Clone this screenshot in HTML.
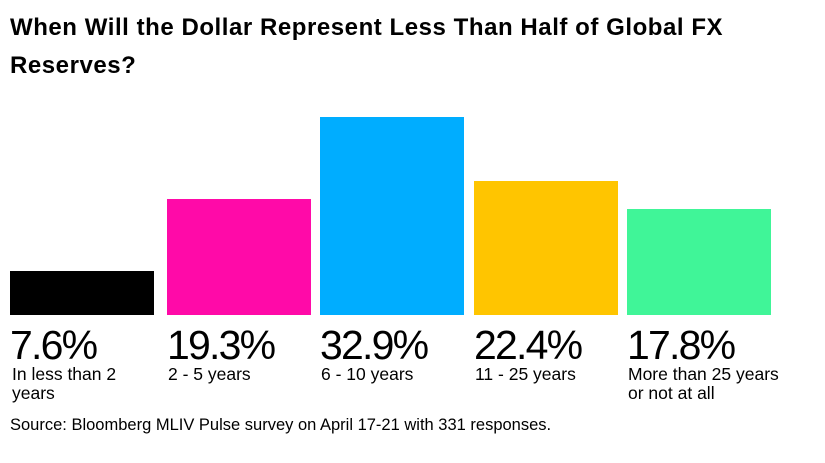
<!DOCTYPE html>
<html><head><style>
body{margin:0;width:825px;height:463px;background:#fff;font-family:"Liberation Sans",sans-serif;position:relative;overflow:hidden;color:#000}
.t{position:absolute;left:10px;top:9px;font-weight:bold;font-size:24px;line-height:38px;letter-spacing:0.55px;width:815px;white-space:nowrap}
.b{position:absolute;width:144px}
.p{position:absolute;top:321px;font-size:41px;letter-spacing:-1.8px;line-height:48px}
.c{position:absolute;top:365px;font-size:17.5px;line-height:19px;width:175px}
.s{position:absolute;left:10px;top:416px;font-size:16.5px}
</style></head><body>
<div class="t">When Will the Dollar Represent Less Than Half of Global FX<br>Reserves?</div>
<div class="b" style="left:10px;top:271px;height:44px;background:#000"></div>
<div class="b" style="left:167px;top:199px;height:116px;background:#ff0aa8"></div>
<div class="b" style="left:320px;top:117px;height:198px;background:#00adff"></div>
<div class="b" style="left:474px;top:181px;height:134px;background:#ffc500"></div>
<div class="b" style="left:627px;top:209px;height:106px;background:#40f598"></div>
<div class="p" style="left:10px">7.6%</div>
<div class="p" style="left:167px">19.3%</div>
<div class="p" style="left:320px">32.9%</div>
<div class="p" style="left:474px">22.4%</div>
<div class="p" style="left:627px">17.8%</div>
<div class="c" style="left:12px;width:135px">In less than 2<br>years</div>
<div class="c" style="left:168px">2 - 5 years</div>
<div class="c" style="left:321px">6 - 10 years</div>
<div class="c" style="left:475px">11 - 25 years</div>
<div class="c" style="left:628px">More than 25 years<br>or not at all</div>
<div class="s">Source: Bloomberg MLIV Pulse survey on April 17-21 with 331 responses.</div>
</body></html>
